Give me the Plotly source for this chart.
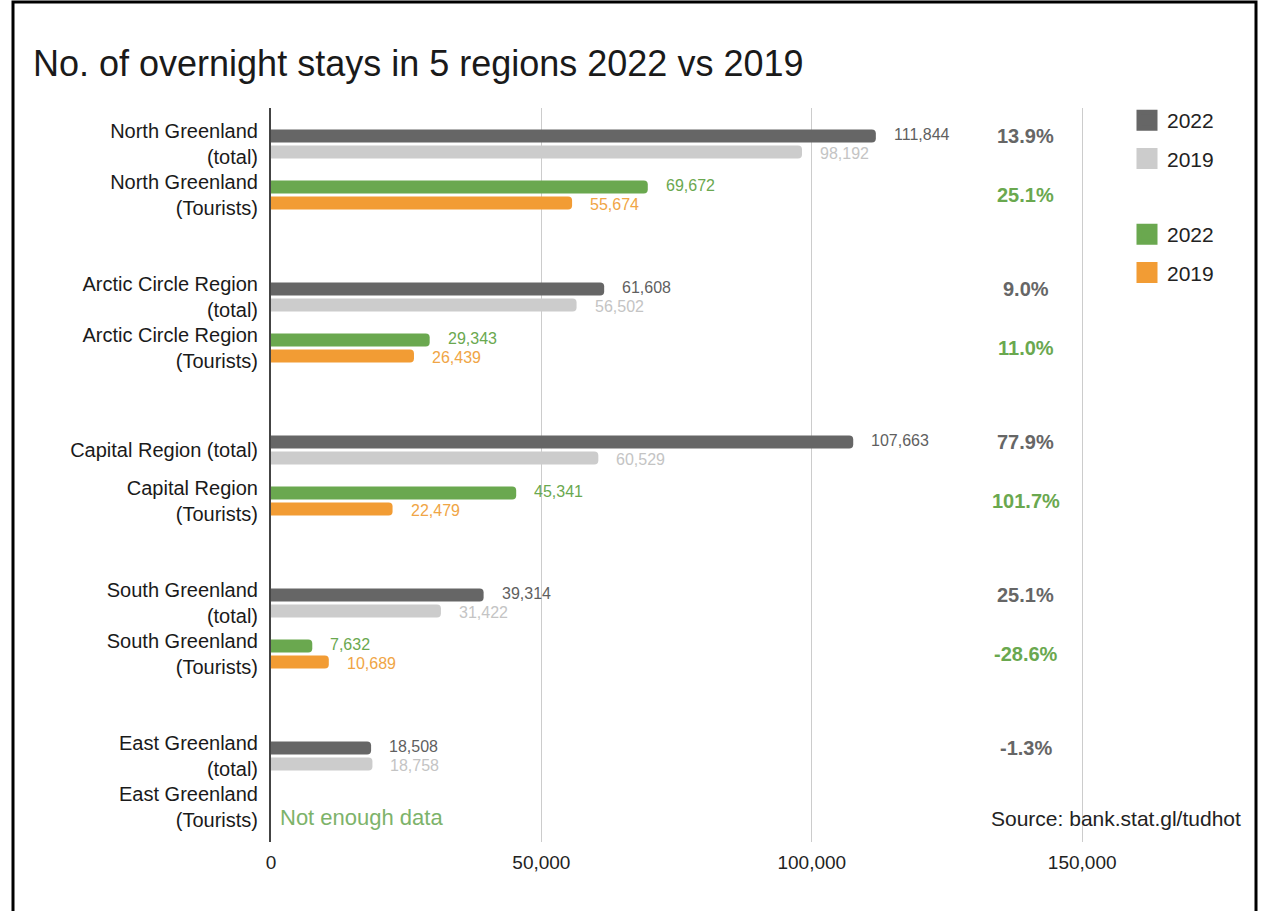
import plotly.graph_objects as go

# ---- data -------------------------------------------------------------
regions = ["North Greenland", "Arctic Circle Region", "Capital Region",
           "South Greenland", "East Greenland"]
total_2022 = [111844, 61608, 107663, 39314, 18508]
total_2019 = [98192, 56502, 60529, 31422, 18758]
tourists_2022 = [69672, 29343, 45341, 7632, None]
tourists_2019 = [55674, 26439, 22479, 10689, None]

total_labels = ["North Greenland<br>(total)", "Arctic Circle Region<br>(total)",
                "Capital Region (total)", "South Greenland<br>(total)",
                "East Greenland<br>(total)"]
tourist_labels = ["North Greenland<br>(Tourists)", "Arctic Circle Region<br>(Tourists)",
                  "Capital Region<br>(Tourists)", "South Greenland<br>(Tourists)",
                  "East Greenland<br>(Tourists)"]
x_ticks = [0, 50000, 100000, 150000]

# ---- styling ----------------------------------------------------------
FONT = "Arial, 'Liberation Sans', sans-serif"
DARK, LIGHT, GREEN, ORANGE = "#666666", "#cccccc", "#6aa84f", "#f29c34"
DARK_TXT, LIGHT_TXT, GREEN_TXT, ORANGE_TXT = "#5f5f5f", "#c4c4c4", "#6aa84f", "#f0a545"

W, H = 1266, 911
M_L, M_R, M_T, M_B = 271, 173, 108, 69
X_MAX = 152000
Y_RANGE = [13.686, -0.706]

BAR_W = 0.255          # bar thickness (category units)
UPPER = -0.284         # offset of the upper bar in a row
LOWER = 0.029          # offset of the lower bar in a row
UPPER_C = UPPER + BAR_W / 2
LOWER_C = LOWER + BAR_W / 2
PCT_X = 139600


def px_x(px):
    return (px - M_L) / (W - M_L - M_R)


def px_y(py):
    return 1 - (py - M_T) / (H - M_T - M_B)


total_rows = [3 * i for i in range(len(regions))]
tourist_rows = [3 * i + 1 for i in range(len(regions))]

fig = go.Figure()

# (values, rows, bar offset, bar colour, label colour, label centre, label nudge)
series = [
    (total_2022, total_rows, UPPER, DARK, DARK_TXT, UPPER_C, 2),
    (total_2019, total_rows, LOWER, LIGHT, LIGHT_TXT, LOWER_C, -2),
    (tourists_2022, tourist_rows, UPPER, GREEN, GREEN_TXT, UPPER_C, 2),
    (tourists_2019, tourist_rows, LOWER, ORANGE, ORANGE_TXT, LOWER_C, -2),
]

annotations = []
for vals, rows, off, col, txtcol, centre, nudge in series:
    fig.add_trace(go.Bar(
        x=vals, y=rows, orientation="h", offset=off, width=BAR_W,
        marker=dict(color=col, cornerradius=4, line=dict(width=0)),
        showlegend=False, hoverinfo="skip",
    ))
    for v, r in zip(vals, rows):
        if v is None:
            continue
        annotations.append(dict(
            x=v, y=r + centre, xref="x", yref="y", text=f"{v:,}",
            xanchor="left", yanchor="middle", xshift=17, yshift=nudge,
            showarrow=False, borderpad=0,
            font=dict(family=FONT, size=16, color=txtcol),
        ))

# year-on-year change
for a, b, r in zip(total_2022, total_2019, total_rows):
    annotations.append(dict(
        x=PCT_X, y=r + UPPER_C, xref="x", yref="y",
        text=f"<b>{(a / b - 1) * 100:.1f}%</b>", showarrow=False,
        xanchor="center", yanchor="middle",
        font=dict(family=FONT, size=20, color="#666666"),
    ))
for a, b, r in zip(tourists_2022, tourists_2019, tourist_rows):
    if a is None or b is None:
        continue
    annotations.append(dict(
        x=PCT_X, y=r, xref="x", yref="y",
        text=f"<b>{(a / b - 1) * 100:.1f}%</b>", showarrow=False,
        xanchor="center", yanchor="middle",
        font=dict(family=FONT, size=20, color=GREEN_TXT),
    ))

annotations.append(dict(
    x=0, y=tourist_rows[-1] + 0.2, xref="x", yref="y", text="Not enough data",
    xanchor="left", yanchor="middle", xshift=7, showarrow=False,
    font=dict(family=FONT, size=22, color="#7db36a"),
))
annotations.append(dict(
    x=px_x(989), y=px_y(818), xref="paper", yref="paper",
    text="Source: bank.stat.gl/tudhot", xanchor="left", yanchor="middle",
    showarrow=False, font=dict(family=FONT, size=21, color="#222222"),
))

# legend swatches
legend_items = [
    ("2022", DARK, "legend"), ("2019", LIGHT, "legend"),
    ("2022", GREEN, "legend2"), ("2019", ORANGE, "legend2"),
]
for i, (name, col, leg) in enumerate(legend_items):
    fig.add_trace(go.Scatter(
        x=[None], y=[None], mode="markers", name=name, legend=leg,
        legendgroup=f"g{i}",
        marker=dict(symbol="square", size=16, color=col,
                    line=dict(color=col, width=5)),
        hoverinfo="skip",
    ))

legend_style = dict(
    xanchor="left", yanchor="top", traceorder="grouped", tracegroupgap=8,
    font=dict(family=FONT, size=21, color="#222222"),
    bgcolor="rgba(0,0,0,0)", borderwidth=0,
)

fig.update_layout(
    width=W, height=H,
    margin=dict(l=M_L, r=M_R, t=M_T, b=M_B, pad=0),
    paper_bgcolor="white", plot_bgcolor="white",
    barmode="overlay", hovermode=False,
    title=dict(
        text="No. of overnight stays in 5 regions 2022 vs 2019",
        x=33 / W, xref="container", xanchor="left",
        y=1 - 63 / H, yref="container", yanchor="middle",
        font=dict(family=FONT, size=36, color="#1a1a1a"),
    ),
    xaxis=dict(
        range=[0, X_MAX], tickvals=x_ticks, tickformat=",",
        showgrid=True, gridcolor="#cccccc", gridwidth=1, zeroline=False,
        ticks="outside", ticklen=3, tickcolor="rgba(0,0,0,0)",
        tickfont=dict(family=FONT, size=19, color="#222222"),
        fixedrange=True,
    ),
    yaxis=dict(
        range=Y_RANGE, tickvals=total_rows + tourist_rows,
        ticktext=total_labels + tourist_labels,
        showgrid=False, zeroline=False,
        showline=True, linecolor="#444444", linewidth=2,
        ticks="outside", ticklen=7, tickcolor="rgba(0,0,0,0)",
        tickfont=dict(family=FONT, size=20, color="#1a1a1a"),
        fixedrange=True,
    ),
    legend=dict(x=px_x(1127), y=px_y(100), **legend_style),
    legend2=dict(x=px_x(1127), y=px_y(214), **legend_style),
    annotations=annotations,
    shapes=[dict(
        type="rect", xref="paper", yref="paper",
        x0=px_x(13), x1=px_x(1256), y0=px_y(930), y1=px_y(2),
        line=dict(color="black", width=3), fillcolor="rgba(0,0,0,0)",
        layer="above",
    )],
)

fig.write_html("out.html", config={"displayModeBar": False})
